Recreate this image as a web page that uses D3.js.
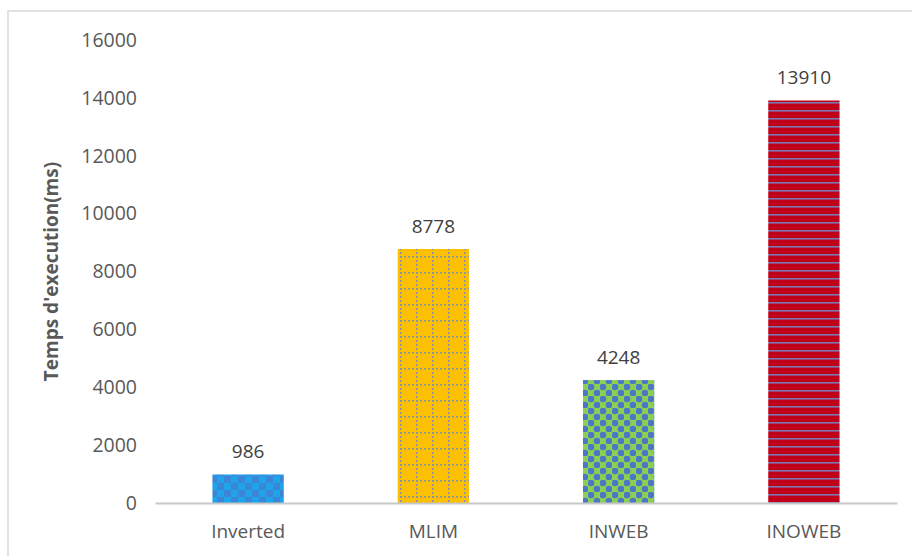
<!DOCTYPE html>
<html>
<head>
<meta charset="utf-8">
<script src="https://cdn.jsdelivr.net/npm/d3@7/dist/d3.min.js"></script>
<style>
  body { margin: 0; background: #fff; }
  text { font-family: "Open Sans", "Noto Sans", sans-serif; }
</style>
</head>
<body>
<svg id="chart" width="912" height="556"></svg>
<script>
const categories = ["Inverted", "MLIM", "INWEB", "INOWEB"];
const values = [986, 8778, 4248, 13910];
const yTicks = [0, 2000, 4000, 6000, 8000, 10000, 12000, 14000, 16000];
const yTitle = "Temps d'execution(ms)";

const svg = d3.select("#chart");
const margin = { left: 155, right: 15, top: 40, bottom: 53 };
const W = 912, H = 556;

// outer frame (left + top only visible)
svg.append("path")
  .attr("d", "M8,556 V11 H912")
  .attr("fill", "none")
  .attr("stroke", "#d9d9d9")
  .attr("stroke-width", 1.5);

const defs = svg.append("defs");

// blue checker
const p1 = defs.append("pattern").attr("id", "pInv").attr("patternUnits", "userSpaceOnUse")
  .attr("width", 14).attr("height", 14);
p1.append("rect").attr("width", 14).attr("height", 14).attr("fill", "#1fa3ea");
p1.append("rect").attr("width", 7).attr("height", 7).attr("fill", "#3b86d6");
p1.append("rect").attr("x", 7).attr("y", 7).attr("width", 7).attr("height", 7).attr("fill", "#3b86d6");

// gold with dotted grid
const p2 = defs.append("pattern").attr("id", "pMlim").attr("patternUnits", "userSpaceOnUse")
  .attr("width", 16).attr("height", 16);
p2.append("rect").attr("width", 16).attr("height", 16).attr("fill", "#fcc000");
p2.append("line").attr("x1", 0).attr("y1", 0.75).attr("x2", 16).attr("y2", 0.75)
  .attr("stroke", "#7f94a8").attr("stroke-width", 1.5).attr("stroke-dasharray", "2,2");
p2.append("line").attr("x1", 0.75).attr("y1", 0).attr("x2", 0.75).attr("y2", 16)
  .attr("stroke", "#7f94a8").attr("stroke-width", 1.5).attr("stroke-dasharray", "2,2");

// green/blue checker with dots
const p3 = defs.append("pattern").attr("id", "pInweb").attr("patternUnits", "userSpaceOnUse")
  .attr("width", 12).attr("height", 12);
p3.append("rect").attr("width", 12).attr("height", 12).attr("fill", "#8ccf52");
p3.append("circle").attr("cx", 3).attr("cy", 3).attr("r", 3.3).attr("fill", "#4a78c6");
p3.append("circle").attr("cx", 9).attr("cy", 9).attr("r", 3.3).attr("fill", "#4a78c6");

// red with horizontal lines
const p4 = defs.append("pattern").attr("id", "pInoweb").attr("patternUnits", "userSpaceOnUse")
  .attr("width", 8).attr("height", 8);
p4.append("rect").attr("width", 8).attr("height", 8).attr("fill", "#c1001a");
p4.append("rect").attr("y", 6).attr("width", 8).attr("height", 1.6).attr("fill", "#7a78b0");

const fills = ["url(#pInv)", "url(#pMlim)", "url(#pInweb)", "url(#pInoweb)"];

const x = d3.scaleBand()
  .domain(categories)
  .range([margin.left, W - margin.right])
  .paddingInner(0.615)
  .paddingOuter(0.31);

const y = d3.scaleLinear()
  .domain([0, 16000])
  .range([H - margin.bottom, margin.top]);

// y axis labels
const yAxis = svg.append("g")
  .attr("transform", `translate(${margin.left - 18},0)`)
  .call(d3.axisLeft(y).tickValues(yTicks).tickSize(0).tickPadding(0).tickFormat(d3.format("d")));
yAxis.select(".domain").remove();
yAxis.selectAll("text").attr("fill", "#595959").style("font-size", "19.5px");

// bars
svg.append("g").selectAll("rect")
  .data(values)
  .join("rect")
  .attr("x", (d, i) => x(categories[i]))
  .attr("y", d => y(d))
  .attr("width", x.bandwidth())
  .attr("height", d => y(0) - y(d))
  .attr("fill", (d, i) => fills[i]);

// value labels
svg.append("g").selectAll("text")
  .data(values)
  .join("text")
  .attr("x", (d, i) => x(categories[i]) + x.bandwidth() / 2)
  .attr("y", d => y(d) - 16)
  .attr("text-anchor", "middle")
  .attr("fill", "#404040")
  .style("font-size", "19px")
  .text(d => d);

// x axis
const xAxis = svg.append("g")
  .attr("transform", `translate(0,${y(0)})`)
  .call(d3.axisBottom(x).tickSize(0).tickPadding(22).tickSizeOuter(0));
xAxis.select(".domain").attr("stroke", "#c8c8c8").attr("stroke-width", 2);
xAxis.selectAll("text").attr("fill", "#595959").style("font-size", "19px");

// y title
svg.append("text")
  .attr("transform", `translate(58,${(y(0) + y(16000)) / 2}) rotate(-90)`)
  .attr("text-anchor", "middle")
  .attr("fill", "#595959")
  .style("font-size", "19px")
  .style("font-weight", "bold")
  .text(yTitle);
</script>
</body>
</html>
